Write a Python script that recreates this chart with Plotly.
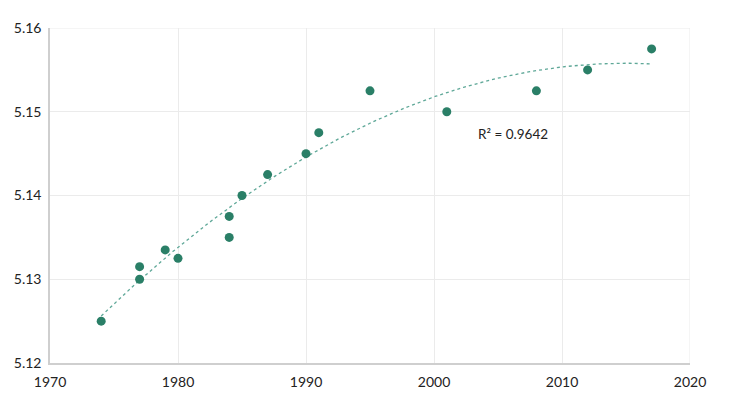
import numpy as np
import plotly.graph_objects as go

years = [1974, 1977, 1977, 1979, 1980, 1984, 1984, 1985, 1987, 1990, 1991, 1995, 2001, 2008, 2012, 2017]
values = [5.125, 5.1315, 5.130, 5.1335, 5.1325, 5.1375, 5.135, 5.140, 5.1425, 5.145, 5.1475, 5.1525, 5.150, 5.1525, 5.155, 5.1575]
x_ticks = [1970, 1980, 1990, 2000, 2010, 2020]
y_ticks = [5.12, 5.13, 5.14, 5.15, 5.16]
r2_label = "R² = 0.9642"

# Order-2 polynomial trendline fitted to the data
coef = np.polyfit(years, values, 2)
tx = np.linspace(min(years), max(years), 200)
ty = np.polyval(coef, tx)

color = "#2a7f67"
font = "Lato, Inter, sans-serif"

fig = go.Figure()
fig.add_trace(go.Scatter(
    x=tx, y=ty, mode="lines",
    line=dict(color="#5fa898", width=1.3, dash="dot"),
    hoverinfo="skip", showlegend=False,
))
fig.add_trace(go.Scatter(
    x=years, y=values, mode="markers",
    marker=dict(color=color, size=9, line=dict(width=0)),
    showlegend=False,
))

fig.add_annotation(
    x=2006.2, y=5.1473, text=r2_label, showarrow=False,
    font=dict(family=font, size=13.5, color="#222222"),
)

# page body has an 8px default margin, so the figure is sized to fit the window
fig.update_layout(
    width=722, height=390,
    margin=dict(l=42, r=40, t=20, b=35),
    paper_bgcolor="white", plot_bgcolor="white",
    font=dict(family=font, size=14, color="#222222"),
)
fig.update_xaxes(
    range=[1970, 2020], tickvals=x_ticks, ticktext=[str(v) for v in x_ticks],
    showgrid=True, gridcolor="#ebebeb", gridwidth=1,
    showline=True, linecolor="#cfcfcf", linewidth=1.5,
    zeroline=False, ticks="", ticklabelstandoff=5, automargin=False,
)
fig.update_yaxes(
    range=[5.12, 5.16], tickvals=y_ticks, ticktext=[f"{v:.2f}" for v in y_ticks],
    showgrid=True, gridcolor="#ebebeb", gridwidth=1,
    showline=True, linecolor="#cfcfcf", linewidth=1.5,
    zeroline=False, ticks="", ticklabelstandoff=4, automargin=False,
)
# right/top border gridlines
fig.add_shape(type="line", xref="x", yref="paper", x0=2020, x1=2020, y0=0, y1=1,
              line=dict(color="#ebebeb", width=1), layer="below")
fig.add_shape(type="line", xref="paper", yref="y", x0=0, x1=1, y0=5.16, y1=5.16,
              line=dict(color="#ebebeb", width=1), layer="below")

fig.write_html("out.html")
